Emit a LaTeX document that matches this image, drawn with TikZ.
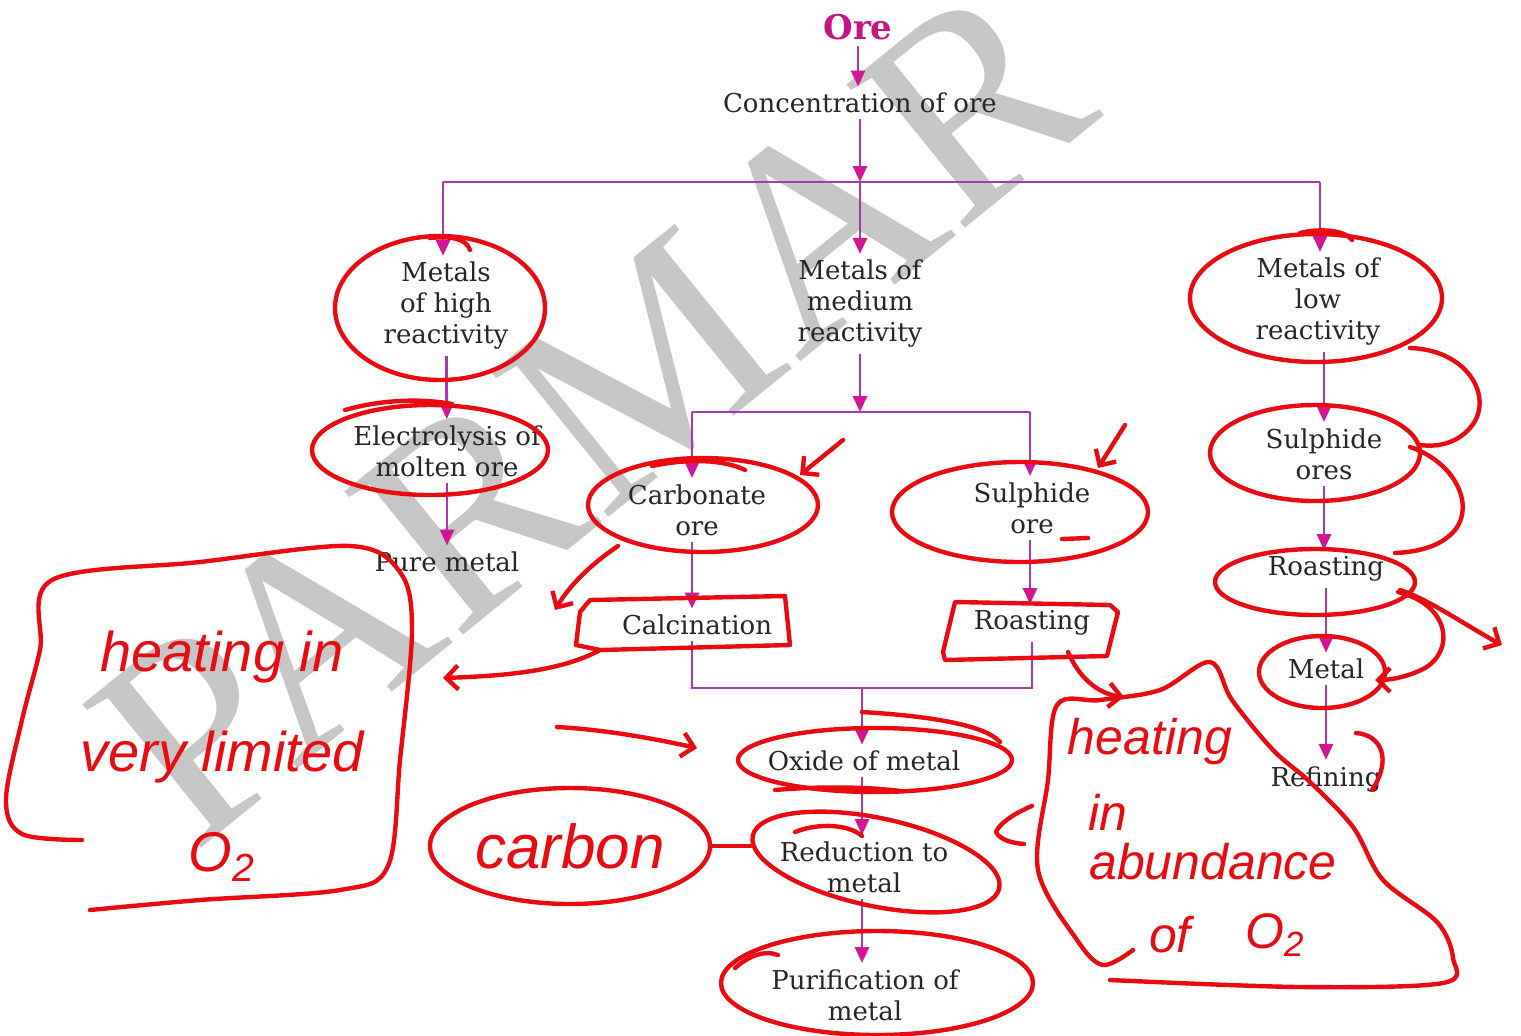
\documentclass[tikz,border=0pt]{standalone}
\usepackage{fontspec}
\setmainfont{DejaVu Serif}
\newfontfamily\hand{Liberation Sans}
\newfontfamily\wmfont{Liberation Serif}
\usetikzlibrary{arrows.meta,shapes.geometric,calc}
\definecolor{mline}{RGB}{168,58,170}
\definecolor{mhead}{RGB}{212,22,150}
\definecolor{oremag}{RGB}{196,22,130}
\definecolor{pen}{RGB}{232,12,18}
\definecolor{wm}{RGB}{198,198,198}
\definecolor{txt}{RGB}{38,38,38}
\begin{document}
\begin{tikzpicture}[x=0.5pt,y=-0.5pt,
  lbl/.style={text=txt,font=\fontsize{13}{15.5}\selectfont,align=center,inner sep=3pt},
  flow/.style={draw=mline,line width=1.4pt,-{Triangle[width=7pt,length=8pt,color=mhead]}},
  link/.style={draw=mline,line width=1.4pt},
  ink/.style={draw=pen,line width=2.2pt,line cap=round,line join=round},
  inkarr/.style={ink,-{Straight Barb[length=6pt,width=12pt,color=pen]}},
  hbig/.style={text=pen,font=\hand\itshape\fontsize{28}{50}\selectfont,align=center},
  hmid/.style={text=pen,font=\hand\itshape\fontsize{25}{30}\selectfont,inner sep=0pt}
]
\useasboundingbox (0,0) rectangle (1521,1035);
\fill[white] (0,0) rectangle (1521,1035);

% watermark
\node[rotate=39,text=wm,font=\wmfont\fontsize{142}{142}\selectfont] (wmk) at (590,412) {PARMAR};

% flowchart nodes
\node[lbl,text=oremag,font=\bfseries\fontsize{17}{20}\selectfont] (ore) at (858,27) {Ore};
\node[lbl] (conc) at (860,103) {Concentration of ore};
\node[lbl] (high) at (446,306) {Metals\\of high\\reactivity};
\node[lbl] (med) at (860,304) {Metals of\\medium\\reactivity};
\node[lbl] (low) at (1318,302) {Metals of\\low\\reactivity};
\node[lbl] (elec) at (447,451) {Electrolysis of\\molten ore};
\node[lbl] (pure) at (447,562) {Pure metal};
\node[lbl] (carb) at (697,510) {Carbonate\\ore};
\node[lbl] (sulph) at (1032,508) {Sulphide\\ore};
\node[lbl] (calc) at (697,625) {Calcination};
\node[lbl] (roast) at (1032,623) {Roasting};
\node[lbl] (oxide) at (864,761) {Oxide of metal};
\node[lbl] (redu) at (864,867) {Reduction to\\metal};
\node[lbl] (puri) at (865,995) {Purification of\\metal};
\node[lbl] (sores) at (1324,454) {Sulphide\\ores};
\node[lbl] (roast2) at (1326,569) {Roasting};
\node[lbl] (metal) at (1326,669) {Metal};
\node[lbl] (refin) at (1326,779) {Refining};

% junctions
\coordinate (j1) at (860,182);
\coordinate (jl) at (443,182);
\coordinate (jr) at (1320,182);
\coordinate (m1) at (860,412);
\coordinate (ml) at (692,412);
\coordinate (mr) at (1030,412);
\coordinate (bl) at (692,688);
\coordinate (br) at (1032,688);
\coordinate (j2) at (862,688);

% connectors
\draw[flow] (ore.south) -- (ore.south |- conc.north);
\draw[flow] (conc) -- (j1);
\draw[link] (jl) -- (jr);
\draw[flow] (j1) -- (med);
\draw[flow] (jl) -- (jl |- high.north);
\draw[flow] (jr) -- (jr |- low.north);
\draw[flow] (high) -- (elec);
\draw[flow] (elec) -- (pure);
\draw[flow] (med) -- (m1);
\draw[link] (ml) -- (mr);
\draw[flow] (ml) -- (ml |- carb.north);
\draw[flow] (mr) -- (mr |- sulph.north);
\draw[flow] (ml |- carb.south) -- (ml |- calc.north);
\draw[flow] (mr |- sulph.south) -- (mr |- roast.north);
\draw[link] (ml |- calc.south) -- (bl) -- (br) -- (roast.south);
\draw[flow] (j2) -- (j2 |- oxide.north);
\draw[flow] (j2 |- oxide.south) -- (j2 |- redu.north);
\draw[flow] (j2 |- redu.south) -- (j2 |- puri.north);
\draw[flow] (sores |- low.south) -- (sores.north);
\draw[flow] (sores.south) -- (sores.south |- roast2.north);
\draw[flow] (roast2) -- (metal);
\draw[flow] (metal) -- (refin);

% ---- red annotations ----
\draw[ink] ($(high)+(-6,2)$) ellipse [x radius=105, y radius=72];
\draw[ink] (430,238) .. controls (450,236) and (466,238) .. (470,250);
\draw[ink] ($(elec)+(-17,-1)$) ellipse [x radius=118, y radius=45];
\draw[ink] (345,410) .. controls (380,400) and (420,398) .. (452,404);
\draw[ink] ($(carb)+(6,-5)$) ellipse [x radius=115, y radius=47];
\draw[ink] (652,466) .. controls (690,458) and (725,460) .. (745,470);
\coordinate (carbtip) at (800,475);
\draw[inkarr] (843,440) -- (carbtip);
\draw[ink] ($(sulph)+(-12,4)$) ellipse [x radius=128, y radius=50];
\coordinate (sultip) at (1098,468);
\draw[inkarr] (1125,425) -- (sultip);
\draw[ink] (1062,539) -- (1088,538);

% calcination box and arrow to the left box
\draw[ink] (590,600) -- (785,596) -- (790,645) -- (600,650) -- (576,645) -- (580,612) -- cycle;
\coordinate (calcbl) at (600,650);
\coordinate (limr) at (443,678);
\draw[inkarr] (calcbl) .. controls (560,672) and (500,676) .. (limr);
\coordinate (carbll) at (618,546);
\coordinate (carbtail) at (555,610);
\draw[inkarr] (carbll) .. controls (590,565) and (570,585) .. (carbtail);

% left box with text
\draw[ink] plot[smooth,tension=0.55] coordinates {(82,840) (22,834) (6,800) (22,720) (40,650) (52,580) (200,562) (350,546) (400,572) (412,630) (400,760) (388,866) (340,890) (200,900) (90,910)};
\node[hbig] (limtxt) at (222,756) {heating in\\very limited\\O\textsubscript{2}};

% arrow to oxide
\coordinate (oxl) at (697,748);
\draw[inkarr] (557,727) .. controls (610,730) and (660,740) .. (oxl);
\draw[ink] (oxide) ++(11,-1) ellipse [x radius=137, y radius=32];
\draw[ink] (862,712) .. controls (930,716) and (985,725) .. (1000,742);
\draw[ink] (775,790) .. controls (820,786) and (870,787) .. (900,791);

% carbon and reduction
\node[ellipse,ink,minimum width=140pt,minimum height=58pt,inner sep=0pt,text=pen,font=\hand\itshape\fontsize{31}{31}\selectfont] (carbon) at (570,846) {carbon};
\node[ellipse,ink,minimum width=126pt,minimum height=44pt,rotate=-12] (redE) at (876,862) {};
\draw[ink] (carbon.east) -- (carbon.east -| redE.west);
\draw[ink] (795,832) .. controls (820,822) and (850,825) .. (862,836);
\draw[ink] (1032,806) .. controls (1010,815) and (998,826) .. (996,832) .. controls (1000,840) and (1012,843) .. (1024,844);

% purification
\draw[ink] ($(puri)+(12,-12)$) ellipse [x radius=156, y radius=52];
\draw[ink] (735,968) .. controls (750,955) and (765,950) .. (778,955);

% roasting (middle) box and the blob
\draw[ink] (955,602) -- (1110,605) -- (1118,612) -- (1107,656) -- (945,660) -- (943,652) -- cycle;
\coordinate (roastb) at (1068,652);
\coordinate (blobtip) at (1124,697);
\draw[inkarr] (roastb) .. controls (1080,680) and (1100,694) .. (blobtip);
\draw[ink] plot[smooth,tension=0.55] coordinates {(1110,980) (1300,987) (1443,983) (1453,958) (1437,922) (1383,880) (1353,827) (1310,782) (1273,750) (1232,700) (1210,662) (1160,690) (1100,700) (1057,705) (1048,780) (1038,870) (1077,940) (1103,965) (1133,950)};
\node[hmid] (ab1) at (1150,742) {heating};
\node[hmid] (ab2) at (1108,812) {in};
\node[hmid] (ab3) at (1213,862) {abundance};
\node[hmid] (ab4) at (1170,935) {of};
\node[hmid] (ab5) at (1275,935) {O\textsubscript{2}};

% right column
\draw[ink] ($(low)+(-2,-4)$) ellipse [x radius=126, y radius=64];
\draw[ink] (1300,233) .. controls (1320,228) and (1345,230) .. (1352,240);
\draw[ink] ($(sores)+(-9,-1)$) ellipse [x radius=105, y radius=48];
\draw[ink] ($(roast2)+(-11,13)$) ellipse [x radius=100, y radius=33];
\draw[ink] ($(metal)+(-4,3)$) ellipse [x radius=63, y radius=36];
\draw[ink] (1410,348) .. controls (1470,350) and (1495,400) .. (1470,428) .. controls (1455,445) and (1435,447) .. (1420,445);
\draw[ink] (1410,447) .. controls (1455,462) and (1475,505) .. (1455,530) .. controls (1440,548) and (1415,552) .. (1395,553);
\coordinate (mtip) at (1375,680);
\draw[inkarr] (1398,592) .. controls (1450,605) and (1455,650) .. (1425,668) .. controls (1410,676) and (1392,680) .. (mtip);
\coordinate (rtip) at (1502,645);
\draw[inkarr] (1400,590) .. controls (1430,600) and (1465,625) .. (rtip);
\draw[ink] (1356,733) .. controls (1382,735) and (1392,760) .. (1372,790);
\end{tikzpicture}
\end{document}
